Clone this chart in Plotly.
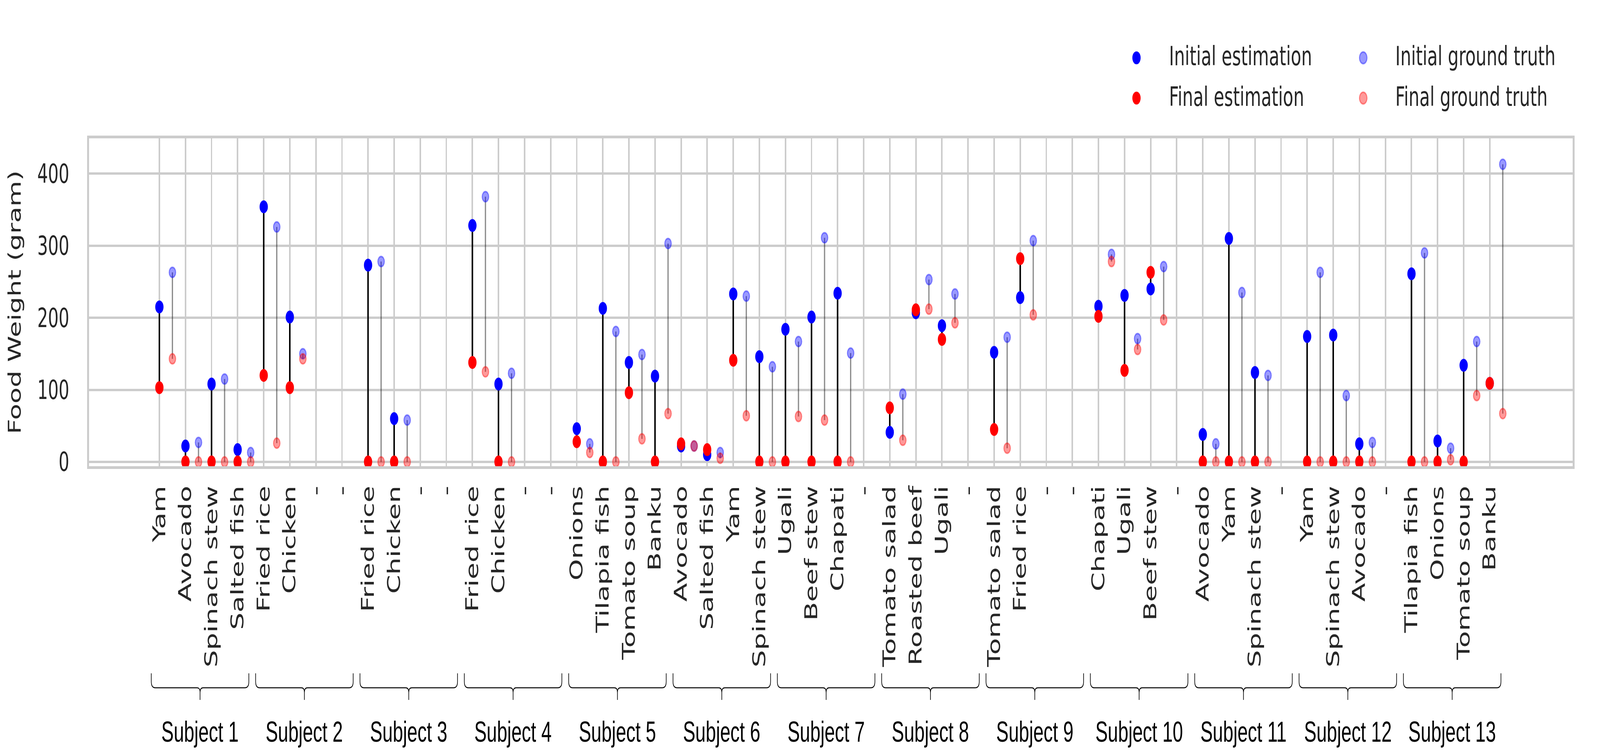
import plotly.graph_objects as go

# ---------------- data ----------------
subjects = ["Subject 1", "Subject 2", "Subject 3", "Subject 4", "Subject 5",
            "Subject 6", "Subject 7", "Subject 8", "Subject 9", "Subject 10",
            "Subject 11", "Subject 12", "Subject 13"]

foods = ["Yam", "Avocado", "Spinach stew", "Salted fish",
         "Fried rice", "Chicken", "-", "-",
         "Fried rice", "Chicken", "-", "-",
         "Fried rice", "Chicken", "-", "-",
         "Onions", "Tilapia fish", "Tomato soup", "Banku",
         "Avocado", "Salted fish", "Yam", "Spinach stew",
         "Ugali", "Beef stew", "Chapati", "-",
         "Tomato salad", "Roasted beef", "Ugali", "-",
         "Tomato salad", "Fried rice", "-", "-",
         "Chapati", "Ugali", "Beef stew", "-",
         "Avocado", "Yam", "Spinach stew", "-",
         "Yam", "Spinach stew", "Avocado", "-",
         "Tilapia fish", "Onions", "Tomato soup", "Banku"]

N = None
initial_estimation = [215, 22, 108, 17, 354, 201, N, N, 273, 60, N, N, 328, 108, N, N,
                      46, 213, 138, 119, 22, 10, 233, 146, 184, 201, 234, N,
                      41, 207, 189, N, 152, 228, N, N, 216, 231, 240, N,
                      38, 310, 124, N, 174, 176, 25, N, 261, 29, 134, 109]
final_estimation = [103, 0, 0, 0, 120, 103, N, N, 0, 0, N, N, 138, 0, N, N,
                    28, 0, 96, 0, 25, 17, 141, 0, 0, 0, 0, N,
                    75, 211, 170, N, 45, 282, N, N, 202, 127, 263, N,
                    0, 0, 0, N, 0, 0, 0, N, 0, 0, 0, 109]
initial_ground_truth = [263, 27, 115, 13, 326, 150, N, N, 278, 58, N, N, 368, 123, N, N,
                        25, 181, 149, 303, 22, 13, 230, 132, 167, 311, 151, N,
                        94, 253, 233, N, 173, 307, N, N, 288, 171, 271, N,
                        25, 235, 120, N, 263, 92, 27, N, 290, 19, 167, 413]
final_ground_truth = [143, 0, 0, 0, 26, 143, N, N, 0, 0, N, N, 125, 0, N, N,
                      13, 0, 32, 67, 22, 5, 64, 0, 63, 58, 0, N,
                      30, 212, 193, N, 19, 204, N, N, 278, 156, 197, N,
                      0, 0, 0, N, 0, 0, 0, N, 0, 3, 92, 67]

items_per_subject = 4
gt_offset = 0.5

# ---------------- geometry ----------------
W, H = 6386, 1932
ML, MR, MT, MB = 355, 109, 354, 739
PW, PH = W - ML - MR, H - MT - MB


def px_x(x):
    return (x - ML) / PW


def px_y(y):
    return (H - MB - y) / PH


x_est = list(range(len(foods)))
x_gt = [i + gt_offset for i in x_est]


def stems(xs, a, b):
    sx, sy = [], []
    for x, y1, y2 in zip(xs, a, b):
        if y1 is None or y2 is None:
            continue
        sx += [x, x, None]
        sy += [y1, y2, None]
    return sx, sy


fig = go.Figure()

ex, ey = stems(x_est, initial_estimation, final_estimation)
fig.add_trace(go.Scatter(x=ex, y=ey, mode="lines", line=dict(color="black", width=6),
                         showlegend=False, hoverinfo="skip"))
gx, gy = stems(x_gt, initial_ground_truth, final_ground_truth)
fig.add_trace(go.Scatter(x=gx, y=gy, mode="lines", line=dict(color="rgba(0,0,0,0.45)", width=5),
                         showlegend=False, hoverinfo="skip"))

BLUE = "rgb(0,0,255)"
RED = "rgb(255,0,0)"
BLUE_A = "rgba(0,0,255,0.4)"
RED_A = "rgba(255,0,0,0.4)"

fig.add_trace(go.Scatter(x=x_est, y=initial_estimation, mode="markers", name="Initial estimation",
                         marker=dict(color=BLUE, size=33, line=dict(width=0))))
fig.add_trace(go.Scatter(x=x_est, y=final_estimation, mode="markers", name="Final estimation",
                         marker=dict(color=RED, size=33, line=dict(width=0))))
fig.add_trace(go.Scatter(x=x_gt, y=initial_ground_truth, mode="markers", name="Initial ground truth",
                         marker=dict(color=BLUE_A, size=26, line=dict(color=BLUE_A, width=4))))
fig.add_trace(go.Scatter(x=x_gt, y=final_ground_truth, mode="markers", name="Final ground truth",
                         marker=dict(color=RED_A, size=26, line=dict(color=RED_A, width=4))))

TXT = "#262626"
FONT = "DejaVu Sans"

shapes = []
annotations = []

# ---- braces + subject labels ----
brace_half = 1.87
rx = 16 / (PW / 57.0)
ry = 16 / PH
rx2 = 12 / (PW / 57.0)
ry2 = 12 / PH
y_top = px_y(1723)
y_h = px_y(1760)
y_tip = px_y(1791)
for g, name in enumerate(subjects):
    c = g * items_per_subject + 1.56
    l, r = c - brace_half, c + brace_half
    path = (f"M {l},{y_top} L {l},{y_h + ry} Q {l},{y_h} {l + rx},{y_h} "
            f"L {c - rx2},{y_h} Q {c},{y_h} {c},{y_h - ry2} L {c},{y_tip} "
            f"M {r},{y_top} L {r},{y_h + ry} Q {r},{y_h} {r - rx},{y_h} "
            f"L {c + rx2},{y_h} Q {c},{y_h} {c},{y_h - ry2}")
    shapes.append(dict(type="path", path=path, xref="x", yref="paper",
                       line=dict(color="black", width=2.5)))
    annotations.append(dict(text=name, x=c, y=px_y(1872), xref="x", yref="paper",
                            showarrow=False, xanchor="center", yanchor="middle",
                            font=dict(family="Liberation Sans, Arial", size=74, color="black")))

# ---- legend (drawn manually to match marker sizes) ----
legend_items = [
    ("Initial estimation", BLUE, BLUE, 4536, 148, 4664),
    ("Final estimation", RED, RED, 4536, 251, 4664),
    ("Initial ground truth", BLUE_A, BLUE_A, 5441, 148, 5567),
    ("Final ground truth", RED_A, RED_A, 5441, 251, 5567),
]
for label, fill, edge, mx, my, tx in legend_items:
    gt = "ground" in label
    rad = 15 if gt else 16.5
    shapes.append(dict(type="circle", xref="paper", yref="paper", xsizemode="pixel", ysizemode="pixel",
                       xanchor=px_x(mx), yanchor=px_y(my), x0=-rad, x1=rad, y0=-rad, y1=rad,
                       fillcolor=fill, line=dict(color=edge, width=4 if gt else 0)))
    annotations.append(dict(text=label, x=px_x(tx), y=px_y(my - 4), xref="paper", yref="paper",
                            showarrow=False, xanchor="left", yanchor="middle",
                            font=dict(family=FONT, size=68, color=TXT)))

fig.update_layout(
    width=W, height=H, autosize=False,
    template="none",
    margin=dict(l=ML, r=MR, t=MT, b=MB, pad=0),
    paper_bgcolor="white", plot_bgcolor="white",
    font=dict(family=FONT, size=68, color=TXT),
    showlegend=False,
    shapes=shapes, annotations=annotations,
)
fig.update_xaxes(range=[-2.70, 54.18], tickmode="array", tickvals=x_est, ticktext=foods,
                 tickangle=-90, tickfont=dict(family=FONT, size=70, color=TXT),
                 showgrid=True, gridcolor="#cccccc", gridwidth=6, zeroline=False,
                 showline=True, mirror=True, linecolor="#cccccc", linewidth=7,
                 ticks="", ticklabelstandoff=15, automargin=False)
fig.update_yaxes(range=[-6, 449], tickvals=[0, 100, 200, 300, 400],
                 tickfont=dict(family=FONT, size=67, color=TXT),
                 title=dict(text="Food Weight (gram)", font=dict(family=FONT, size=68, color=TXT), standoff=45),
                 showgrid=True, gridcolor="#cccccc", gridwidth=6, zeroline=False,
                 showline=True, mirror=True, linecolor="#cccccc", linewidth=7,
                 ticks="", ticklabelstandoff=58, automargin=False)

# Fit the 6386x1932 figure into whatever viewport the browser actually provides.
fit_js = """
(function(){
  var gd = document.getElementById('{plot_id}');
  document.documentElement.style.margin = '0';
  document.documentElement.style.overflow = 'hidden';
  document.body.style.margin = '0';
  document.body.style.overflow = 'hidden';
  var sx = window.innerWidth / %d, sy = window.innerHeight / %d;
  var wrap = gd.parentElement;
  wrap.style.width = window.innerWidth + 'px';
  wrap.style.height = window.innerHeight + 'px';
  wrap.style.overflow = 'hidden';
  gd.style.transformOrigin = '0 0';
  gd.style.transform = 'scale(' + sx + ',' + sy + ')';
})();
""" % (W, H)
fig.write_html("out.html", post_script=fit_js, config={"displayModeBar": False, "staticPlot": True})
